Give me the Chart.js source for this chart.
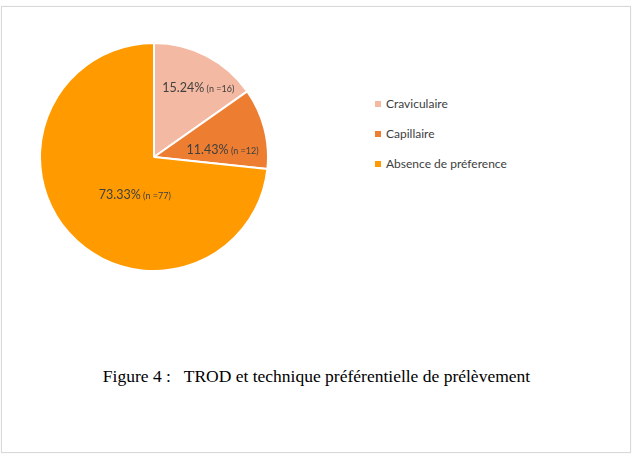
<!DOCTYPE html>
<html>
<head>
<meta charset="utf-8">
<script src="https://cdn.jsdelivr.net/npm/chart.js@4"></script>
<style>
  body { margin: 0; background: #fff; }
  #frame {
    position: absolute; left: 1px; top: 6px; width: 628px; height: 445px;
    border: 1px solid #d9d9d9; box-shadow: 0 0 1px #e6e6e6;
  }
  #pieWrap { position: absolute; left: 39px; top: 42px; width: 230px; height: 230px; }
  #legend { position: absolute; left: 375px; top: 96px; font: 12px Lato, "Open Sans", sans-serif; color: #404040; }
  #legend div { height: 30px; line-height: 16px; }
  #legend span.sw { display: inline-block; width: 6px; height: 6px; margin-right: 5px; vertical-align: 1px; }
  #caption {
    position: absolute; left: 0; width: 633px; top: 366px; text-align: center;
    font: 17.5px "Liberation Serif", "Times New Roman", serif; color: #000; white-space: pre;
  }
</style>
</head>
<body>
<div id="frame"></div>
<div id="pieWrap"><canvas id="pieChart"></canvas></div>
<div id="legend"></div>
<div id="caption"></div>
<script>
// data
const categories = ['Craviculaire', 'Capillaire', 'Absence de préference'];
const percents = [15.24, 11.43, 73.33];
const counts = [16, 12, 77];
const colors = ['#F4B9A2', '#ED7D31', '#FF9A00'];
const captionText = 'Figure 4 :   TROD et technique préférentielle de prélèvement';

// label placement: fraction of radius and angle shift (deg) from slice middle
const labelRadius = [0.725, 0.605, 0.368];
const labelShift = [5, 8.7, -20.8];

const bigFont = '12.5px Lato, "Open Sans", sans-serif';
const smallFont = '9px Lato, "Open Sans", sans-serif';

const sliceLabels = {
  id: 'sliceLabels',
  afterDatasetsDraw(chart) {
    const ctx = chart.ctx;
    const meta = chart.getDatasetMeta(0);
    meta.data.forEach((arc, i) => {
      const mid = (arc.startAngle + arc.endAngle) / 2 + labelShift[i] * Math.PI / 180;
      const r = arc.outerRadius * labelRadius[i];
      const x = arc.x + Math.cos(mid) * r;
      const y = arc.y + Math.sin(mid) * r;
      const big = percents[i].toFixed(2) + '%';
      const small = ' (n =' + counts[i] + ')';
      ctx.save();
      ctx.fillStyle = '#404040';
      ctx.textBaseline = 'alphabetic';
      ctx.font = bigFont;
      const w1 = ctx.measureText(big).width;
      ctx.font = smallFont;
      const w2 = ctx.measureText(small).width;
      const x0 = x - (w1 + w2) / 2;
      ctx.font = bigFont;
      ctx.fillText(big, x0, y + 4.5);
      ctx.font = smallFont;
      ctx.fillText(small, x0 + w1, y + 4.5);
      ctx.restore();
    });
  }
};

new Chart(document.getElementById('pieChart'), {
  type: 'pie',
  data: {
    labels: categories,
    datasets: [{
      data: percents,
      backgroundColor: colors,
      borderColor: '#ffffff',
      borderWidth: 2
    }]
  },
  options: {
    responsive: true,
    maintainAspectRatio: false,
    animation: false,
    layout: { padding: 0 },
    plugins: {
      legend: { display: false },
      tooltip: { enabled: false }
    }
  },
  plugins: [sliceLabels]
});

// legend
const legend = document.getElementById('legend');
categories.forEach((c, i) => {
  const row = document.createElement('div');
  const sw = document.createElement('span');
  sw.className = 'sw';
  sw.style.background = colors[i];
  row.appendChild(sw);
  row.appendChild(document.createTextNode(c));
  legend.appendChild(row);
});
document.getElementById('caption').textContent = captionText;
</script>
</body>
</html>
